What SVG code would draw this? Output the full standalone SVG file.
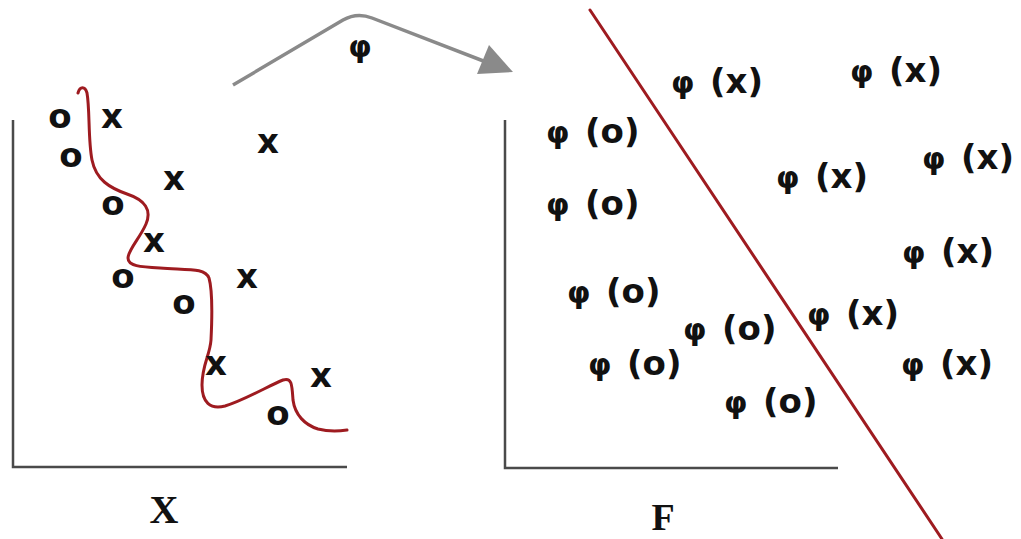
<svg xmlns="http://www.w3.org/2000/svg" width="1021" height="539" viewBox="0 0 1021 539">
<style>
.ax{stroke:#4a4a4a;stroke-width:2.5;fill:none}
.red{stroke:#9e1b20;stroke-width:3;fill:none;stroke-linecap:round;stroke-linejoin:round}
.pt{font-family:"DejaVu Sans",sans-serif;font-weight:bold;font-size:34px;fill:#111;text-anchor:middle}
.phi{font-family:"DejaVu Sans",sans-serif;font-weight:bold;font-size:30px;fill:#111}
.par{font-family:"DejaVu Sans",sans-serif;font-weight:bold;font-size:34px;fill:#111}
.lab{font-family:"Liberation Serif",serif;font-weight:bold;font-size:40px;fill:#111;text-anchor:middle}
</style>
<rect width="1021" height="539" fill="#fff"/>
<g id="left-plot">
<path class="ax" d="M13,120 V467 H347"/>
<path class="red" d="M78,93 C80,86 85,86 87,93 C90,110 88,140 92,160 C96,180 110,188 127,194 C145,200 152,210 146,224 C140,238 128,250 128,258 C128,266 140,267 160,268 C190,270 205,268 209,278 C213,292 212,320 211,340 C210,355 202,365 202,385 C202,402 210,410 225,406 C245,400 270,385 283,380 C292,377 292,385 293,400 C295,415 305,425 318,429 C330,432 340,431 347,430"/>
<text class="pt" x="60" y="128">o</text>
<text class="pt" x="112" y="128">x</text>
<text class="pt" x="268" y="153">x</text>
<text class="pt" x="71" y="167">o</text>
<text class="pt" x="174" y="190">x</text>
<text class="pt" x="113" y="215">o</text>
<text class="pt" x="154" y="252">x</text>
<text class="pt" x="123" y="288">o</text>
<text class="pt" x="247" y="288">x</text>
<text class="pt" x="184" y="314">o</text>
<text class="pt" x="216" y="375">x</text>
<text class="pt" x="321" y="387">x</text>
<text class="pt" x="278" y="425">o</text>
<text class="lab" x="164" y="523">X</text>
</g>
<g id="connectors">
<path d="M233,85 L343,20 Q357,12 372,18 L486,62" stroke="#8a8a8a" stroke-width="3.5" fill="none"/>
<polygon points="489,45 513,72 477,74" fill="#8a8a8a"/>
<text class="phi" x="360" y="57" text-anchor="middle">φ</text>
</g>
<g id="right-plot">
<path class="ax" d="M505,120 V468 H838"/>
<line class="red" x1="590" y1="10" x2="942" y2="539"/>
<g id="pts">
<text x="671" y="93"><tspan class="phi">φ</tspan><tspan class="par" x="710">(x)</tspan></text>
<text x="850" y="82"><tspan class="phi">φ</tspan><tspan class="par" x="889">(x)</tspan></text>
<text x="546" y="143"><tspan class="phi">φ</tspan><tspan class="par" x="585">(o)</tspan></text>
<text x="922" y="169"><tspan class="phi">φ</tspan><tspan class="par" x="961">(x)</tspan></text>
<text x="776" y="188"><tspan class="phi">φ</tspan><tspan class="par" x="815">(x)</tspan></text>
<text x="546" y="215"><tspan class="phi">φ</tspan><tspan class="par" x="585">(o)</tspan></text>
<text x="902" y="263"><tspan class="phi">φ</tspan><tspan class="par" x="941">(x)</tspan></text>
<text x="567" y="303"><tspan class="phi">φ</tspan><tspan class="par" x="606">(o)</tspan></text>
<text x="683" y="340"><tspan class="phi">φ</tspan><tspan class="par" x="722">(o)</tspan></text>
<text x="807" y="325"><tspan class="phi">φ</tspan><tspan class="par" x="846">(x)</tspan></text>
<text x="588" y="375"><tspan class="phi">φ</tspan><tspan class="par" x="627">(o)</tspan></text>
<text x="901" y="375"><tspan class="phi">φ</tspan><tspan class="par" x="940">(x)</tspan></text>
<text x="724" y="413"><tspan class="phi">φ</tspan><tspan class="par" x="763">(o)</tspan></text>
</g>
<text class="lab" x="663" y="530" style="font-size:38px">F</text>
</g>
</svg>
